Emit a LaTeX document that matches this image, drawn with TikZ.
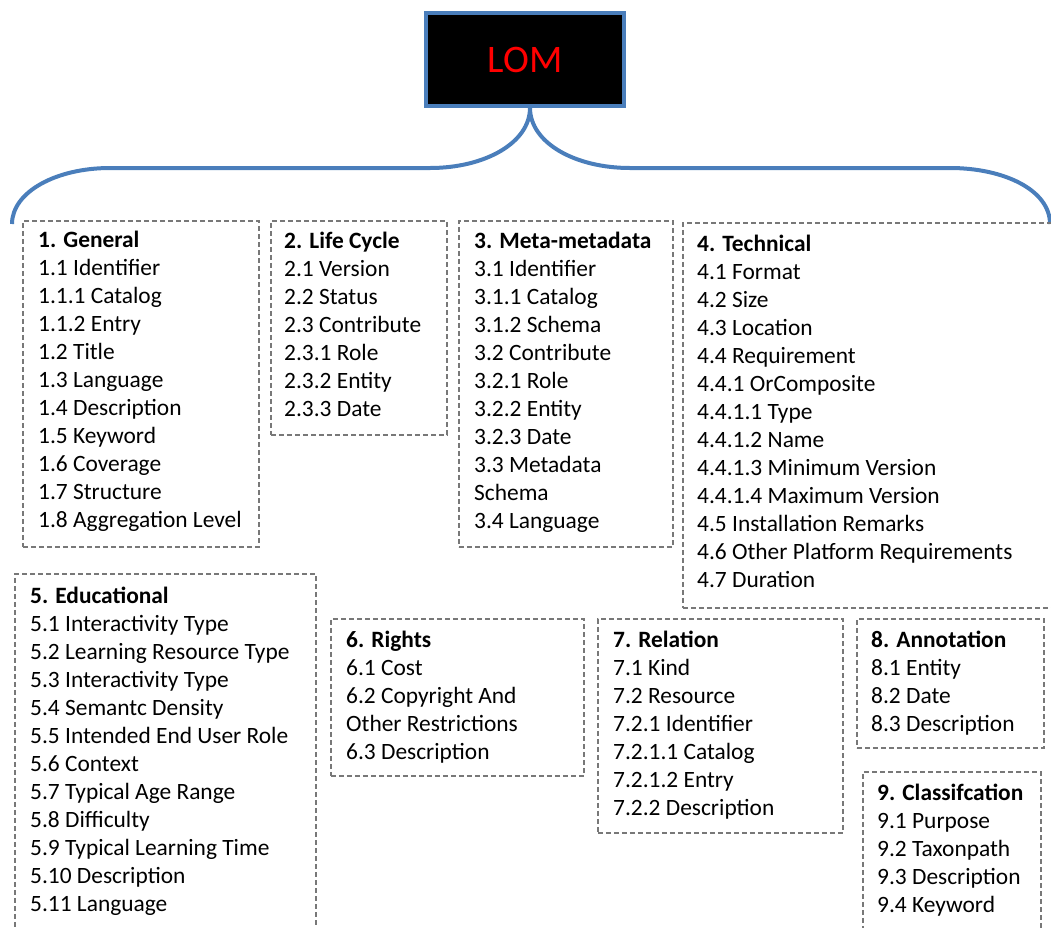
\documentclass[tikz,border=0pt]{standalone}
\usepackage{fontspec}
\setmainfont{Carlito}
\definecolor{lomblue}{RGB}{74,126,187}
\definecolor{boxgray}{RGB}{120,120,120}
\begin{document}
\begin{tikzpicture}[x=1pt,y=-1pt,
  box/.style={draw=boxgray, line width=1.7pt, dash pattern=on 5pt off 3pt, anchor=north west, inner sep=0pt},
  txt/.style={anchor=base west, inner sep=0pt, font=\fontsize{23.4}{28}\selectfont, text=black},
  brace/.style={draw=lomblue, line width=4pt}]
\useasboundingbox (0,0) rectangle (1051,927);
\clip (0,0) rectangle (1051,927);

% root
\node[draw=lomblue, line width=3.5pt, fill=black, minimum width=198pt, minimum height=93pt,
      inner sep=0pt, text=red, font=\fontsize{39}{40}\selectfont] (lom) at (525,59.5) {LOM};
\coordinate (cusp) at ([xshift=5pt]lom.south);
\coordinate (lend) at (12,224);
\coordinate (rend) at (1050,224);
\draw[brace] (cusp) .. controls ([yshift=-35pt]cusp) and (485,168) .. (430,168) -- (110,168)
   .. controls (56,168) and (12,192) .. (lend);
\draw[brace] (cusp) .. controls ([yshift=-35pt]cusp) and (575,168) .. (630,168) -- (950,168)
   .. controls (1004,168) and (1050,190) .. (rend);

% boxes
\node[box, minimum width=236pt, minimum height=326pt] (b1) at (22,220) {};
\node[box, minimum width=176pt, minimum height=214pt] (b2) at (270,220) {};
\node[box, minimum width=214pt, minimum height=326pt] (b3) at (458,220) {};
\node[box, minimum width=380pt, minimum height=385pt] (b4) at (682,222) {};
\node[box, minimum width=301pt, minimum height=370pt] (b5) at (14,573) {};
\node[box, minimum width=253pt, minimum height=157pt] (b6) at (330,618) {};
\node[box, minimum width=245pt, minimum height=214pt] (b7) at (597,618) {};
\node[box, minimum width=187pt, minimum height=129pt] (b8) at (856,618) {};
\node[box, minimum width=178pt, minimum height=170pt] (b9) at (862,771) {};

% texts
\node[txt] (t1) at (38,247) {\begin{tabular}[t]{@{}l@{}}\textbf{1. General}\\1.1 Identifier\\1.1.1 Catalog\\1.1.2 Entry\\1.2 Title\\1.3 Language\\1.4 Description\\1.5 Keyword\\1.6 Coverage\\1.7 Structure\\1.8 Aggregation Level\end{tabular}};
\node[txt] (t2) at (284,248) {\begin{tabular}[t]{@{}l@{}}\textbf{2. Life Cycle}\\2.1 Version\\2.2 Status\\2.3 Contribute\\2.3.1 Role\\2.3.2 Entity\\2.3.3 Date\end{tabular}};
\node[txt] (t3) at (474,248) {\begin{tabular}[t]{@{}l@{}}\textbf{3. Meta-metadata}\\3.1 Identifier\\3.1.1 Catalog\\3.1.2 Schema\\3.2 Contribute\\3.2.1 Role\\3.2.2 Entity\\3.2.3 Date\\3.3 Metadata\\Schema\\3.4 Language\end{tabular}};
\node[txt] (t4) at (697,251) {\begin{tabular}[t]{@{}l@{}}\textbf{4. Technical}\\4.1 Format\\4.2 Size\\4.3 Location\\4.4 Requirement\\4.4.1 OrComposite\\4.4.1.1 Type\\4.4.1.2 Name\\4.4.1.3 Minimum Version\\4.4.1.4 Maximum Version\\4.5 Installation Remarks\\4.6 Other Platform Requirements\\4.7 Duration\end{tabular}};
\node[txt] (t5) at (30,603) {\begin{tabular}[t]{@{}l@{}}\textbf{5. Educational}\\5.1 Interactivity Type\\5.2 Learning Resource Type\\5.3 Interactivity Type\\5.4 Semantc Density\\5.5 Intended End User Role\\5.6 Context\\5.7 Typical Age Range\\5.8 Difficulty\\5.9 Typical Learning Time\\5.10 Description\\5.11 Language\end{tabular}};
\node[txt] (t6) at (346,647) {\begin{tabular}[t]{@{}l@{}}\textbf{6. Rights}\\6.1 Cost\\6.2 Copyright And\\Other Restrictions\\6.3 Description\end{tabular}};
\node[txt] (t7) at (613,647) {\begin{tabular}[t]{@{}l@{}}\textbf{7. Relation}\\7.1 Kind\\7.2 Resource\\7.2.1 Identifier\\7.2.1.1 Catalog\\7.2.1.2 Entry\\7.2.2 Description\end{tabular}};
\node[txt] (t8) at (871,647) {\begin{tabular}[t]{@{}l@{}}\textbf{8. Annotation}\\8.1 Entity\\8.2 Date\\8.3 Description\end{tabular}};
\node[txt] (t9) at (877,800) {\begin{tabular}[t]{@{}l@{}}\textbf{9. Classifcation}\\9.1 Purpose\\9.2 Taxonpath\\9.3 Description\\9.4 Keyword\end{tabular}};
\end{tikzpicture}
\end{document}
